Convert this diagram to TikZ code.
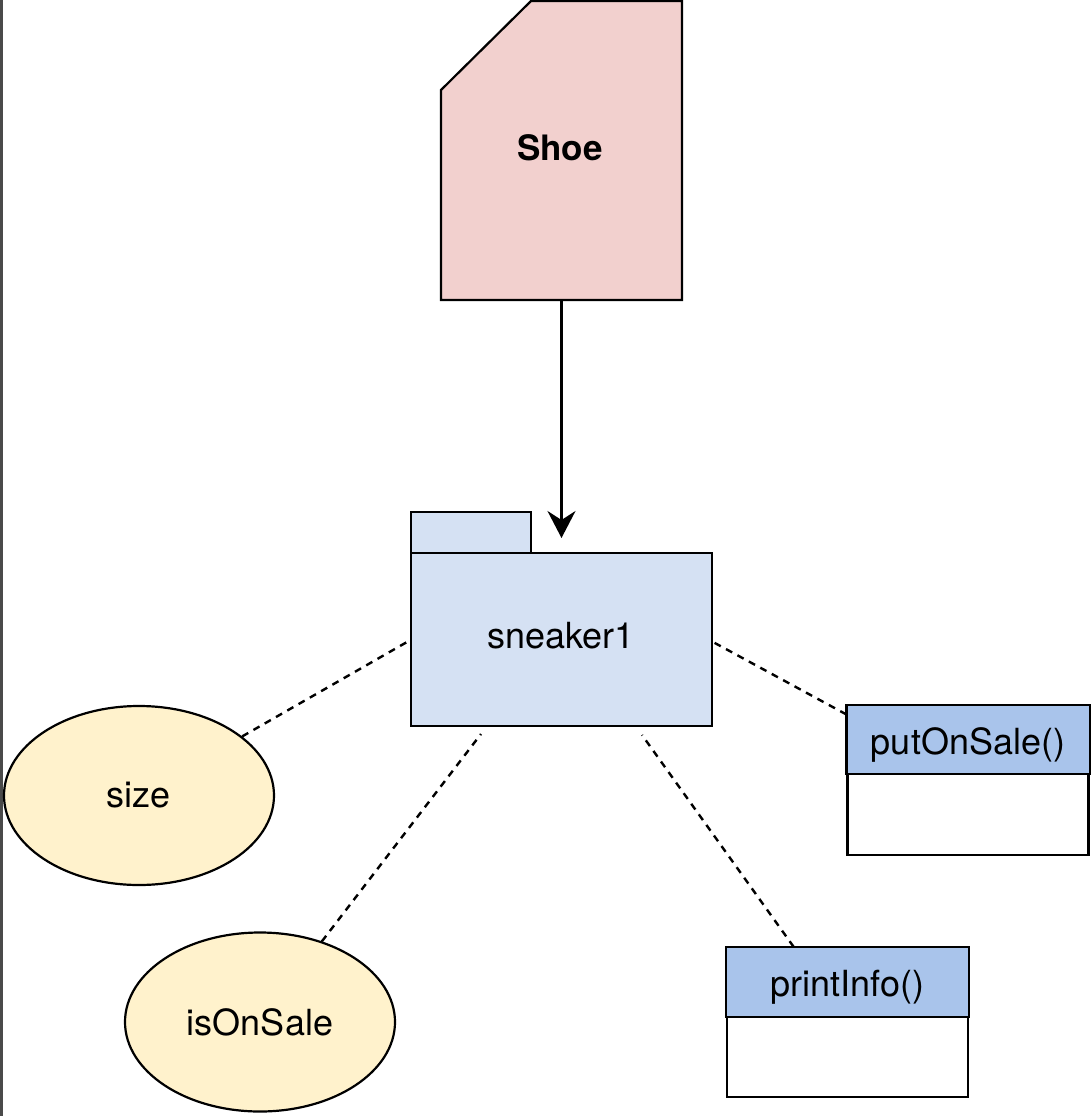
\documentclass[tikz,border=0pt]{standalone}
\usepackage{fontspec}
\setmainfont{TeX Gyre Heros}
\usetikzlibrary{arrows.meta,shapes.geometric,calc}
\definecolor{shoefill}{HTML}{F2D0CE}
\definecolor{pkgfill}{HTML}{D5E1F3}
\definecolor{attrfill}{HTML}{FFF2CC}
\definecolor{hdrfill}{HTML}{A9C4EB}
\definecolor{edgegray}{HTML}{4A4A4A}
\begin{document}
\begin{tikzpicture}[x=1pt,y=-1pt,
  lbl/.style={font=\fontsize{36}{42}\selectfont, text=black},
  outline/.style={draw=black, line width=2.2pt},
  attr/.style={ellipse, outline, fill=attrfill, inner sep=0pt,
    minimum width=270pt, minimum height=179pt, lbl},
  opbox/.style={outline, fill=white, inner sep=0pt,
    minimum width=241pt, minimum height=149pt},
  link/.style={dashed, dash pattern=on 7pt off 6pt, line width=2.4pt},
  inherit/.style={line width=2.2pt, -{Stealth[length=27pt,width=28pt,inset=9pt]}}]

\useasboundingbox (0,0) rectangle (1090,1116);
\fill[white] (0,0) rectangle (1090,1116);
\fill[edgegray] (0,0) rectangle (2.5,1116);

% class Shoe: card with a clipped corner
\filldraw[outline, fill=shoefill, line join=miter]
  (441,90) -- (531,1) -- (682,1) -- (682,300) -- (441,300) -- cycle;
\node[minimum width=241pt, minimum height=299pt, inner sep=0pt] (shoe) at (561.5,150.5) {};
\node[lbl, font=\fontsize{35}{41}\selectfont\bfseries] (shoename) at (560,148) {Shoe};

% object sneaker1: package-style folder
\filldraw[outline, fill=pkgfill] (411,512) rectangle (531,553);
\node[outline, fill=pkgfill, minimum width=301pt, minimum height=173pt, inner sep=0pt]
  (sneaker) at (561.5,639.5) {};
\node[lbl] (sneakername) at (561,636) {sneaker1};

\coordinate (tip) at (561.5,538);
\draw[inherit] (shoe.south) -- (tip);

% attributes
\node[attr] (size) at (139,795.5) {size};
\node[attr] (sale) at (260,1022) {isOnSale};

% methods
\node[opbox] (put) at (968,780.5) {};
\filldraw[outline, fill=hdrfill] (put.north west) rectangle ($(put.north east)+(0,69)$);
\node[lbl] (putname) at ($(put.north)+(0,40)$) {putOnSale()};

\node[opbox] (print) at (847.5,1022.5) {};
\filldraw[outline, fill=hdrfill] (print.north west) rectangle ($(print.north east)+(0,70)$);
\node[lbl] (printname) at ($(print.north)+(0,40)$) {printInfo()};

% dashed links from the object to its members
\coordinate (sL) at (407,642);
\coordinate (sBL) at (481,734);
\coordinate (sBR) at (642,735);
\coordinate (sR) at (713,642);
\draw[link] (size) -- (sL);
\draw[link] (sale) -- (sBL);
\draw[link] (print) -- (sBR);
\draw[link] (put) -- (sR);
\end{tikzpicture}
\end{document}
